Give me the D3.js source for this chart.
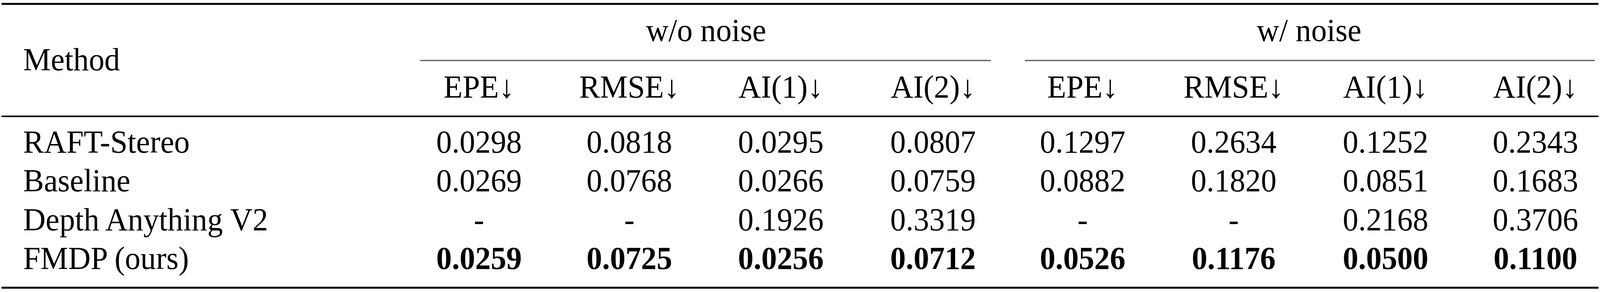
<!DOCTYPE html>
<html lang="en">
<head>
    <meta charset="UTF-8">
    <title>Results table</title>
    <script src="https://d3js.org/d3.v7.min.js"></script>
    <style>
        html, body { margin: 0; padding: 0; background: #fff; overflow: hidden; }
        svg { display: block; width: 100vw; height: 100vh; }
        text { font-family: "Liberation Serif", "DejaVu Serif", serif; fill: #000; }
    </style>
</head>
<body>
    <svg id="table" viewBox="0 0 4215 748" preserveAspectRatio="none"></svg>
    <script>
        // Data
        const groups = ["w/o noise", "w/ noise"];
        const metrics = ["EPE↓", "RMSE↓", "AI(1)↓", "AI(2)↓"];
        const methods = ["RAFT-Stereo", "Baseline", "Depth Anything V2", "FMDP (ours)"];
        const valuesNoNoise = [
            ["0.0298", "0.0818", "0.0295", "0.0807"],
            ["0.0269", "0.0768", "0.0266", "0.0759"],
            ["-", "-", "0.1926", "0.3319"],
            ["0.0259", "0.0725", "0.0256", "0.0712"]
        ];
        const valuesNoise = [
            ["0.1297", "0.2634", "0.1252", "0.2343"],
            ["0.0882", "0.1820", "0.0851", "0.1683"],
            ["-", "-", "0.2168", "0.3706"],
            ["0.0526", "0.1176", "0.0500", "0.1100"]
        ];
        const boldMethod = "FMDP (ours)";

        const svg = d3.select("#table");
        const fontSize = 82;

        // column centres (8 metric columns)
        const colKeys = d3.range(8);
        const xCol = d3.scaleOrdinal()
            .domain(colKeys)
            .range([1262, 1658, 2057, 2458, 2852, 3250, 3650, 4045]);

        // row baselines
        const yRow = d3.scalePoint()
            .domain(methods)
            .range([391, 689]);

        // rules
        const rule = (x1, x2, y, w) => svg.append("line")
            .attr("x1", x1).attr("x2", x2).attr("y1", y).attr("y2", y)
            .attr("stroke", "#000").attr("stroke-width", w);
        rule(4, 4211, 10, 5);
        rule(4, 4211, 298, 4);
        rule(4, 4211, 737, 5);
        rule(1107, 2610, 155, 3).attr("stroke", "#555");
        rule(2700, 4201, 155, 3).attr("stroke", "#555");

        // header
        svg.append("text").attr("x", 61).attr("y", 180)
            .attr("font-size", fontSize).text("Method");

        svg.selectAll(".group")
            .data(groups)
            .enter().append("text")
            .attr("class", "group")
            .attr("x", (d, i) => (xCol(i * 4) + xCol(i * 4 + 3)) / 2)
            .attr("y", 105)
            .attr("text-anchor", "middle")
            .attr("font-size", fontSize)
            .text(d => d);

        svg.selectAll(".metric")
            .data(colKeys)
            .enter().append("text")
            .attr("class", "metric")
            .attr("x", d => xCol(d))
            .attr("y", 250)
            .attr("text-anchor", "middle")
            .attr("font-size", fontSize)
            .text(d => metrics[d % 4]);

        // body
        methods.forEach((m, r) => {
            const bold = m === boldMethod;
            svg.append("text")
                .attr("x", 61).attr("y", yRow(m))
                .attr("font-size", fontSize).text(m);
            const cells = valuesNoNoise[r].concat(valuesNoise[r]);
            svg.selectAll(".cell" + r)
                .data(cells)
                .enter().append("text")
                .attr("class", "cell" + r)
                .attr("x", (d, i) => xCol(i))
                .attr("y", yRow(m))
                .attr("text-anchor", "middle")
                .attr("font-size", fontSize)
                .attr("font-weight", bold ? "bold" : "normal")
                .text(d => d);
        });
    </script>
</body>
</html>
